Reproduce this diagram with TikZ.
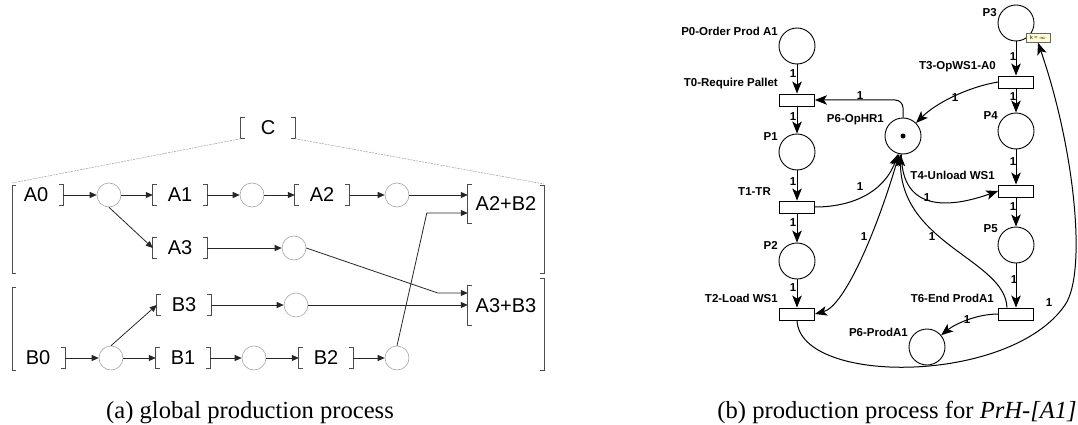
\documentclass[tikz,border=0pt]{standalone}
\usepackage{fontspec}
\setmainfont{Liberation Serif}
\setsansfont{Liberation Sans}
\usetikzlibrary{arrows.meta, positioning, calc}

\begin{document}
\begin{tikzpicture}[x=1pt, y=-1pt,
    box/.style={font=\sffamily\fontsize{20}{24}\selectfont, minimum width=54pt, minimum height=21pt, inner sep=0pt},
    joint/.style={circle, draw=black!35, fill=white, minimum size=24pt, inner sep=0pt, line width=0.6pt},
    brk/.style={draw=black!70, line width=0.8pt},
    guide/.style={draw=black!40, line width=0.5pt, dash pattern=on 2pt off 1pt},
    flow/.style={draw=black!85, line width=0.8pt, -{Triangle[length=7pt, width=6pt]}},
    place/.style={circle, draw, fill=white, minimum size=36pt, inner sep=0pt, line width=0.9pt},
    trans/.style={draw, fill=white, minimum width=35pt, minimum height=12pt, inner sep=0pt, line width=0.9pt},
    tag/.style={font=\sffamily\bfseries\fontsize{11.5}{13}\selectfont, anchor=east, inner sep=0pt},
    w/.style={font=\sffamily\bfseries\fontsize{11.5}{12}\selectfont, inner sep=0pt},
    arc/.style={line width=1pt, -{Stealth[length=12pt, width=9.5pt, inset=3pt]}},
    kbox/.style={draw=black!60, fill=yellow!18, line width=0.4pt, minimum width=24pt, minimum height=9pt, inner sep=0pt, font=\sffamily\fontsize{5.5}{6}\selectfont},
    captext/.style={font=\rmfamily\fontsize{24.6}{28}\selectfont, inner sep=0pt},
]
\useasboundingbox (0,0) rectangle (1078,425);

% ---------- (a) global production process ----------
\node[box] (c) at (268,128) {C};

% group A
\node[box] (a0) at (36,195) {A0};
\node[joint] (c1) at (109,195) {};
\node[box] (a1) at (180,195) {A1};
\node[joint] (c2) at (252,195) {};
\node[box] (a2) at (322,195) {A2};
\node[joint] (c3) at (397,195) {};
\node[box] (a3) at (180,248) {A3};
\node[joint] (c4) at (294,248) {};

% group B
\node[box] (b0) at (38,358) {B0};
\node[joint] (d1) at (111,358) {};
\node[box] (b1) at (183,358) {B1};
\node[joint] (d2) at (254,358) {};
\node[box] (b2) at (326,358) {B2};
\node[joint] (d3) at (397,358) {};
\node[box] (b3) at (184,305) {B3};
\node[joint] (d4) at (296,305) {};

% assemblies
\node[box, minimum width=76pt, minimum height=38pt] (ab2) at (506,204) {A2+B2};
\node[box, minimum width=76pt, minimum height=39pt] (ab3) at (506,305.5) {A3+B3};

% brackets round the tasks
\foreach \n in {c,a1,a2,a3,b1,b2,b3} {
  \draw[brk] ([xshift=4pt]\n.north west) -- (\n.north west) -- (\n.south west) -- ([xshift=4pt]\n.south west);
  \draw[brk] ([xshift=-4pt]\n.north east) -- (\n.north east) -- (\n.south east) -- ([xshift=-4pt]\n.south east);
}
\foreach \n in {a0,b0}
  \draw[brk] ([xshift=-4pt]\n.north east) -- (\n.north east) -- (\n.south east) -- ([xshift=-4pt]\n.south east);
\foreach \n in {ab2,ab3}
  \draw[brk] ([xshift=4pt]\n.north west) -- (\n.north west) -- (\n.south west) -- ([xshift=4pt]\n.south west);

% big brackets of the two groups
\draw[brk] (16,185) -- (12,185) -- (12,273) -- (16,273);
\draw[brk] (540,185) -- (544,185) -- (544,273) -- (540,273);
\draw[brk] (16,287) -- (12,287) -- (12,370) -- (16,370);
\draw[brk] (540,278) -- (544,278) -- (544,370) -- (540,370);
\draw[guide] (c.south west) -- (12,183);
\draw[guide] (c.south east) -- (544,184);

% flow of group A
\draw[flow] (a0.east) -- (c1.west);
\draw[flow] (c1.east) -- (a1.west);
\draw[flow] (a1.east) -- (c2.west);
\draw[flow] (c2.east) -- (a2.west);
\draw[flow] (a2.east) -- (c3.west);
\draw[flow] (c3.east) -- (c3.east -| ab2.west);
\draw[flow] (c1.south) -- (a3.west);
\draw[flow] (a3.east) -- (c4.west);
\draw[flow] (c4.east) -- ([xshift=-30pt, yshift=12.5pt]ab3.west) -- ([yshift=12.5pt]ab3.west);

% flow of group B
\draw[flow] (b0.east) -- (d1.west);
\draw[flow] (d1.east) -- (b1.west);
\draw[flow] (b1.east) -- (d2.west);
\draw[flow] (d2.east) -- (b2.west);
\draw[flow] (b2.east) -- (d3.west);
\draw[flow] (d1.north) -- (b3.west);
\draw[flow] (b3.east) -- (d4.west);
\draw[flow] (d4.east) -- (d4.east -| ab3.west);
\draw[flow] (d3.north) -- ([xshift=-41pt, yshift=-9pt]ab2.west) -- ([yshift=-9pt]ab2.west);

% ---------- (b) Petri net of PrH-[A1] ----------
\node[place] (p0) at (797,46) {};
\node[trans] (t0) at (797,100) {};
\node[place] (p1) at (797,152) {};
\node[trans] (t1) at (797,207) {};
\node[place] (p2) at (797,261) {};
\node[trans] (t2) at (797,314) {};
\node[place] (p3) at (1016,23) {};
\node[trans] (t3) at (1016,82) {};
\node[place] (p4) at (1016,131) {};
\node[trans] (t4) at (1016,191) {};
\node[place] (p5) at (1016,245) {};
\node[trans] (t6) at (1016,314) {};
\node[place] (hr) at (903,136) {};
\node[place] (pa) at (927,347) {};
\fill (hr) circle (2.5);
\node[kbox] (kcap) at (1038,38) {k = $\infty$};

% names
\node[tag] (p0l) at (778,31) {P0-Order Prod A1};
\node[tag] (t0l) at (778,84) {T0-Require Pallet};
\node[tag] (p1l) at (778,137) {P1};
\node[tag] (t1l) at (771,192) {T1-TR};
\node[tag] (p2l) at (778,245) {P2};
\node[tag] (t2l) at (778,298) {T2-Load WS1};
\node[tag] (hrl) at (884,120) {P6-OpHR1};
\node[tag] (p3l) at (997,13) {P3};
\node[tag] (t3l) at (996,67) {T3-OpWS1-A0};
\node[tag] (p4l) at (998,116) {P4};
\node[tag] (t4l) at (995,175) {T4-Unload WS1};
\node[tag] (p5l) at (998,229) {P5};
\node[tag] (t6l) at (994,298) {T6-End ProdA1};
\node[tag] (pal) at (908,332) {P6-ProdA1};

% arcs
\draw[arc] (p0) -- (t0);
\draw[arc] (t0) -- (p1);
\draw[arc] (p1) -- (t1);
\draw[arc] (t1) -- (p2);
\draw[arc] (p2) -- (t2);
\draw[arc] (p3) -- (t3);
\draw[arc] (t3) -- (p4);
\draw[arc] (p4) -- (t4);
\draw[arc] (t4) -- (p5);
\draw[arc] (p5) -- (t6);
\draw[arc, rounded corners=8pt] (hr.north) |- (t0.east);
\draw[arc] (t3.west) .. controls +(-30,5) and +(20,-20) .. (hr.45);
\draw[arc] (t1.east) .. controls +(35,0) and +(-15,40) .. (hr.255);
\draw[arc, {Stealth[length=12pt, width=9.5pt, inset=3pt]}-{Stealth[length=12pt, width=9.5pt, inset=3pt]}]
  (t2.east) .. controls +(30,-8) and +(-22,75) .. (hr.258);
\draw[arc] (hr.265) .. controls +(0,60) and +(-45,16) .. (t4.west);
\draw[arc] ([xshift=-9pt]t6.north) .. controls +(-2,-48) and +(0,90) .. (hr.262);
\draw[arc] (t6.west) .. controls +(-20,0) and +(15,-12) .. (pa.40);
\coordinate (sweep) at (1065,305);
\draw[arc] (t2.south) .. controls +(3,65) and +(-55,80) .. (sweep)
  .. controls +(22,-32) and +(37,107) .. (kcap.south);

% weights
\foreach \x/\y [count=\i] in {793/74, 793/117, 793/182, 793/223, 793/288,
    1013/57, 1013/97, 1013/162, 1013/207, 1014/280,
    860/96, 955/98, 860/187, 927/198, 932/237, 864/237, 967/320, 1049/303}
  \node[w] (w\i) at (\x,\y) {1};

% captions
\node[captext, anchor=base west] (capa) at (106,418) {(a) global production process};
\node[captext, anchor=base east] (capb) at (1077,418) {(b) production process for \textit{PrH-[A1]}};
\end{tikzpicture}
\end{document}
